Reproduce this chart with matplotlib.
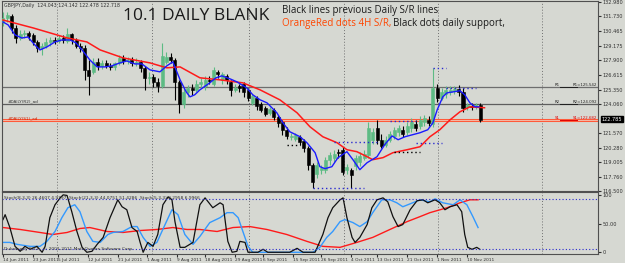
import matplotlib.pyplot as plt
import numpy as np

# GBPJPY daily candles, 14 Jun - 16 Nov 2011
opens = [131.24, 131.58, 131.76, 130.71, 129.84, 130.19, 130.28, 130.11, 129.50, 128.97,
         129.15, 129.50, 129.67, 129.58, 129.84, 129.58, 130.19, 129.67, 129.15, 128.97,
         127.06, 126.89, 127.76, 127.41, 127.67, 127.41, 127.32, 127.67, 128.10, 127.84,
         127.93, 127.67, 127.76, 127.23, 126.36, 126.45, 126.02, 125.67, 127.76, 128.19,
         127.93, 126.02, 124.10, 125.15, 125.49, 125.32, 125.84, 125.67, 126.19, 125.84,
         126.89, 126.19, 126.54, 126.02, 125.32, 125.67, 125.84, 125.32, 124.19, 124.63,
         124.10, 123.75, 123.32, 123.58, 122.97, 122.54, 121.84, 121.23, 121.06, 121.23,
         120.88, 120.27, 118.80, 118.01, 118.36, 118.36, 119.23, 119.40, 119.93, 120.10,
         118.36, 118.36, 118.71, 119.06, 119.40, 119.67, 120.97, 122.01, 120.97, 120.54,
         120.97, 121.32, 121.67, 121.84, 121.67, 122.01, 122.36, 122.19, 122.54, 122.71,
         122.36, 125.49, 124.63, 124.97, 125.15, 125.23, 125.41, 125.15, 123.84, 123.93,
         123.93, 124.04]
highs = [132.11, 132.11, 131.93, 130.98, 130.54, 130.54, 130.45, 130.28, 129.67, 129.41,
         129.84, 129.93, 129.93, 130.11, 130.11, 130.71, 130.28, 129.84, 129.41, 129.24,
         127.93, 128.10, 128.10, 127.93, 127.93, 127.67, 127.76, 128.37, 128.37, 128.19,
         128.19, 128.10, 127.93, 127.41, 126.89, 126.71, 126.36, 129.41, 128.63, 128.54,
         128.10, 126.19, 125.49, 125.76, 125.84, 126.19, 126.36, 126.54, 126.54, 127.32,
         127.06, 126.89, 126.71, 126.19, 125.84, 125.84, 126.02, 125.49, 124.97, 124.80,
         124.28, 123.93, 123.84, 123.75, 123.15, 122.71, 122.10, 121.58, 121.58, 121.41,
         121.06, 120.45, 118.97, 119.06, 118.80, 119.49, 119.93, 120.10, 120.19, 120.36,
         118.88, 118.53, 119.67, 119.93, 120.10, 122.54, 122.01, 122.71, 121.49, 121.32,
         121.75, 122.10, 122.28, 122.19, 122.54, 122.88, 122.71, 123.06, 123.15, 123.06,
         127.23, 125.84, 125.49, 125.67, 125.67, 125.67, 125.76, 125.49, 124.19, 124.19,
         124.19, 124.14]
lows = [130.89, 131.24, 130.28, 129.41, 129.67, 129.84, 129.67, 129.24, 128.63, 128.37,
        128.97, 129.15, 129.32, 129.41, 129.41, 129.41, 129.32, 128.97, 128.63, 126.19,
        124.89, 126.71, 127.06, 127.15, 127.23, 127.06, 127.06, 127.50, 127.58, 127.58,
        127.41, 127.41, 126.89, 125.32, 125.84, 125.58, 125.15, 125.49, 127.58, 127.67,
        124.45, 123.32, 123.75, 124.71, 124.89, 125.15, 125.49, 125.32, 125.84, 125.67,
        126.36, 125.84, 125.84, 124.80, 125.15, 125.15, 124.71, 124.36, 124.02, 123.58,
        123.41, 123.06, 123.15, 122.71, 122.10, 121.41, 121.06, 120.97, 120.88, 120.54,
        119.93, 118.36, 116.79, 117.66, 118.01, 118.10, 118.80, 119.06, 119.40, 117.93,
        118.01, 116.79, 118.36, 118.71, 119.23, 119.40, 120.62, 120.62, 120.27, 120.36,
        120.80, 121.06, 121.32, 121.23, 121.41, 121.67, 121.75, 121.93, 122.19, 122.19,
        122.10, 124.28, 124.45, 124.63, 124.89, 124.97, 124.80, 123.41, 123.58, 123.58,
        123.67, 122.48]
closes = [131.58, 131.85, 130.71, 129.84, 130.19, 130.28, 130.02, 129.50, 128.97, 129.15,
          129.50, 129.67, 129.58, 129.84, 129.67, 130.19, 129.67, 129.15, 128.97, 127.06,
          126.54, 127.76, 127.41, 127.67, 127.41, 127.32, 127.67, 128.10, 127.84, 127.93,
          127.67, 127.76, 127.23, 126.36, 126.45, 126.02, 125.67, 128.28, 128.19, 127.93,
          126.02, 124.10, 125.15, 125.49, 125.32, 125.84, 126.02, 126.19, 126.10, 127.06,
          126.71, 126.71, 126.19, 125.32, 125.49, 125.49, 125.15, 124.63, 124.80, 123.93,
          123.58, 123.23, 123.67, 122.97, 122.45, 121.84, 121.32, 121.32, 121.41, 120.80,
          120.27, 118.80, 117.32, 118.80, 118.53, 119.23, 119.67, 119.75, 119.84, 118.19,
          118.62, 117.93, 119.40, 119.58, 119.75, 122.01, 121.67, 120.97, 120.45, 120.97,
          121.49, 121.84, 122.01, 121.49, 122.19, 122.54, 122.01, 122.71, 122.88, 122.45,
          125.49, 124.63, 125.15, 125.32, 125.32, 125.41, 125.15, 123.75, 124.02, 123.84,
          124.02, 122.72]

# moving averages (bar index, price)
fast_ma_x = [0, 1.2, 2.8, 4.4, 5.8, 7.4, 8.6, 10.2, 12.1, 13.7, 15.6, 17.0, 18.4, 20.2, 21.9,
             23.7, 25.3, 27.2, 28.8, 30.7, 32.3, 34.2, 36.5, 38.1, 39.5, 41.2, 42.6, 43.5, 44.6,
             45.8, 48.1, 49.5, 50.9, 52.8, 54.4, 56.7, 58.1, 59.8, 61.4, 63.7, 65.1, 66.7, 69.1,
             70.7, 72.6, 73.7, 74.9, 76.5, 77.9, 80.0, 81.4, 83.0, 84.7, 87.0, 88.8, 90.5, 91.9,
             93.5, 95.3, 97.0, 98.8, 100.0, 101.0, 102.3, 103.3, 106.3, 107.4, 108.6, 109.8, 110.7]
fast_ma = [131.24, 130.98, 130.11, 129.84, 129.93, 129.24, 128.80, 129.06, 129.50, 129.67,
           129.67, 129.41, 128.80, 127.93, 127.32, 127.32, 127.41, 127.67, 127.84, 127.58,
           127.58, 127.06, 126.89, 127.41, 127.76, 126.19, 125.15, 124.71, 124.89, 125.32,
           125.93, 126.36, 126.54, 126.28, 126.02, 125.49, 124.89, 124.45, 124.19, 123.32,
           122.45, 121.67, 121.23, 120.71, 119.84, 118.62, 118.45, 118.62, 119.40, 119.93,
           119.23, 118.36, 118.97, 119.49, 120.55, 121.30, 120.97, 121.23, 121.41, 121.58,
           121.84, 122.45, 123.58, 124.71, 125.06, 125.24, 124.89, 124.19, 123.84, 123.84]
slow_ma_x = [0, 7.0, 14.9, 19.5, 22.6, 27.9, 34.2, 38.1, 41.2, 45.8, 50.5, 55.8, 59.8, 64.4,
             68.4, 71.4, 74.4, 77.7, 80.0, 82.3, 84.7, 86.0, 88.4, 90.7, 94.0, 97.0, 99.3,
             101.6, 104.0, 106.3, 108.6, 112.0]
slow_ma = [131.41, 130.72, 129.85, 129.50, 128.80, 128.11, 127.67, 127.24, 127.32, 126.37,
           126.19, 125.93, 125.32, 124.45, 123.32, 122.10, 121.23, 120.71, 120.10, 119.93,
           119.49, 119.23, 119.41, 119.84, 120.10, 120.36, 121.23, 121.84, 122.71, 123.41,
           123.84, 123.76]

# previous daily S/R levels
r1, r2, s1 = 125.542, 124.092, 122.682
bid = 122.785

# 4H S/R dotted segments: (start bar, end bar, price)
h4_levels = [(72, 84, 116.79), (77, 87, 120.80), (90, 96, 122.62), (96, 102, 120.71),
             (100, 103, 127.23), (103, 110, 125.49)]
daily_dots = [(66, 69, 120.54), (91, 97, 119.93)]

# oscillator panel (bar index, value)
osc_black_x = [0, 0.5, 1.6, 2.8, 4.0, 5.1, 6.3, 7.9, 9.1, 9.8, 10.9, 12.1, 13.3, 14.0, 14.9,
               16.0, 17.2, 18.4, 19.5, 20.7, 21.9, 23.3, 24.9, 26.7, 27.7, 28.8, 30.0, 31.2,
               31.9, 32.6, 33.7, 34.9, 36.0, 37.2, 38.4, 39.3, 40.0, 41.2, 42.3, 44.2, 45.8,
               47.0, 48.8, 50.5, 51.2, 52.3, 53.3, 54.4, 55.1, 56.3, 57.0, 59.3, 60.5, 61.6,
               66.7, 68.4, 69.8, 72.6, 74.4, 75.6, 76.7, 78.4, 79.1, 80.0, 81.2, 81.9, 83.0,
               84.7, 85.8, 87.0, 88.4, 89.5, 90.7, 91.9, 93.0, 94.7, 96.3, 97.7, 98.8, 100.5,
               101.6, 102.8, 104.0, 105.6, 106.7, 107.4, 108.1, 109.1, 110.2, 110.9]
osc_black = [56.9, 65.5, 43.1, 10.3, 1.7, 10.3, 5.2, 10.3, 0, 10.3, 60.3, 82.8, 94.8, 100, 99,
             70.7, 36.2, 8.6, 0, 1.7, 13.8, 25.9, 60.3, 91.4, 79.3, 74.1, 43.1, 36.2, 17.2, 0,
             17.2, 10.3, 31.0, 82.8, 96.5, 91.4, 53.4, 8.6, 8.6, 17.2, 82.8, 94.8, 77.6, 86.2,
             82.8, 19.0, 0, 1.7, 19.0, 17.2, 0, 0, 5.2, 0, 0, 6.9, 0, 0, 31.0, 60.3, 77.6, 91.4,
             94.8, 60.3, 25.9, 17.2, 25.9, 48.3, 77.6, 91.4, 94.8, 87.9, 62.1, 44.8, 48.3, 74.1,
             89.7, 91.4, 86.2, 91.4, 86.2, 74.1, 79.3, 82.8, 70.7, 31.0, 8.6, 5.2, 8.6, 5.2]
osc_blue_x = [0, 1.6, 3.3, 6.3, 8.6, 10.2, 12.1, 13.7, 15.1, 16.7, 17.9, 19.5, 20.9, 22.6,
              24.4, 25.6, 27.9, 30.0, 31.2, 32.6, 34.2, 35.8, 37.7, 39.3, 40.7, 42.3, 44.2,
              45.8, 48.1, 50.5, 52.1, 53.5, 54.7, 55.8, 57.0, 58.1, 72.1, 73.7, 75.3, 76.7,
              78.4, 79.5, 81.4, 83.0, 84.7, 86.0, 88.1, 90.0, 91.6, 93.0, 95.3, 97.0, 99.3,
              100.5, 102.3, 104.7, 106.3, 107.9, 109.3, 110.5]
osc_blue = [17.2, 17.2, 13.8, 10.3, 10.3, 19.0, 36.2, 60.3, 77.6, 82.8, 70.7, 36.2, 19.0, 17.2,
            31.0, 34.5, 36.2, 44.8, 44.8, 25.9, 10.3, 17.2, 48.3, 74.1, 65.5, 31.0, 13.8, 27.6,
            51.7, 60.3, 69.0, 69.0, 60.3, 36.2, 10.3, 0, 0, 8.6, 25.9, 36.2, 53.4, 56.9, 51.7,
            44.8, 53.4, 69.0, 91.4, 91.4, 86.2, 79.3, 86.2, 91.4, 87.9, 93.1, 86.2, 82.8, 91.4,
            82.8, 62.1, 43.1]
osc_red_x = [0, 4.0, 8.6, 11.6, 14.9, 17.9, 20.2, 24.2, 27.9, 31.9, 35.8, 39.5, 42.8, 45.8,
             49.8, 53.5, 57.4, 61.4, 66.0, 70.7, 74.4, 78.4, 82.3, 86.0, 90.0, 94.0, 97.0,
             99.3, 103.3, 106.3, 108.6, 110.5]
osc_red = [43.1, 39.7, 34.5, 31.0, 34.5, 41.4, 43.1, 36.2, 34.5, 37.9, 39.7, 43.1, 39.7, 39.7,
           36.2, 43.1, 44.8, 39.7, 31.0, 19.0, 10.3, 8.6, 17.2, 25.9, 39.7, 53.4, 62.1, 69.0,
           77.6, 86.2, 91.4, 91.4]

date_pos = [0, 7, 12.8, 19.8, 26.7, 33.5, 40.5, 47, 54, 60.5, 67.4, 74, 81, 87, 94, 101, 108]
date_labels = ['14 Jun 2011', '23 Jun 2011', '5 Jul 2011', '12 Jul 2011', '21 Jul 2011',
               '1 Aug 2011', '9 Aug 2011', '18 Aug 2011', '29 Aug 2011', '6 Sep 2011',
               '15 Sep 2011', '26 Sep 2011', '4 Oct 2011', '13 Oct 2011', '21 Oct 2011',
               '1 Nov 2011', '10 Nov 2011']
price_ticks = [132.980, 131.730, 130.465, 129.175, 127.900, 126.615, 125.350, 124.060,
               121.570, 120.280, 119.005, 117.760, 116.500]
grid_x = [12.6, 34.7, 57.2, 79.3, 101.2, 125.3]

bg = '#d6d8d2'
bull = '#5dbb84'
W, H = 625, 263

fig = plt.figure(figsize=(6.25, 2.63), dpi=100, facecolor=bg)
ax = fig.add_axes([2 / W, 1 - 191 / H, 596 / W, 190 / H], facecolor=bg)
ind = fig.add_axes([2 / W, 1 - 254 / H, 596 / W, 62 / H], facecolor=bg)

idx = np.arange(len(closes))
o, h, l, c = map(np.array, (opens, highs, lows, closes))
up = c >= o
cols = np.where(up, bull, 'black')

ax.vlines(idx, l, h, colors=cols, lw=0.8, zorder=3)
body_h = np.maximum(np.abs(c - o), 0.04)
ax.bar(idx, body_h, bottom=np.minimum(o, c), width=0.7, color=cols, edgecolor=cols,
       lw=0.4, zorder=4)

ax.plot(slow_ma_x, slow_ma, color='#ff1a1a', lw=1.1, zorder=5)
ax.plot(fast_ma_x, fast_ma, color='#1a1aff', lw=1.0, zorder=6)

# S/R lines
ax.axhline(r1, color='#6e6e6e', lw=0.9, zorder=2)
ax.axhline(r2, color='#5e5e5e', lw=0.9, zorder=2)
ax.axhline(s1, color='#ff5a3a', lw=2.2, zorder=2)
ax.axhline(s1, color='#f2c8b8', lw=0.6, zorder=2)

for a, b, p in h4_levels:
    ax.plot([a, b], [p, p], color='#2a2ad0', lw=1.0, ls=(0, (1, 2)), zorder=5)
for a, b, p in daily_dots:
    ax.plot([a, b], [p, p], color='black', lw=1.0, ls=(0, (1, 2)), zorder=5)

for lvl, name, col in ((r1, 'R1', '#202020'), (r2, 'R2', '#202020'), (s1, 'S1', '#e00000')):
    ax.plot([129.5, 133.5], [lvl, lvl], color=col, lw=0.7, zorder=3)
    ax.text(128.3, lvl + 0.12, name, fontsize=2.8, color=col)
    ax.text(138.2, lvl + 0.12, '%s=%.3f' % (name, lvl), fontsize=2.8, color=col, ha='right')
ax.text(1, r2 + 0.1, '#DAILY(R2)_ad', fontsize=3, color='#303030')
ax.text(1, s1 + 0.1, '#DAILY(S1)_ad', fontsize=3, color='#d02000')

for gx in grid_x:
    ax.axvline(gx, color='#707070', lw=0.7, ls=(0, (1, 2)), zorder=1)
    ind.axvline(gx, color='#707070', lw=0.7, ls=(0, (1, 2)), zorder=1)

ax.set_xlim(-0.23, 138.4)
ax.set_ylim(116.537, 133.067)
ax.yaxis.tick_right()
ax.set_yticks(price_ticks)
ax.set_yticklabels(['%.3f' % t for t in price_ticks])
ax.tick_params(axis='y', labelsize=3.6, length=2, pad=1, colors='#303030')
ax.set_xticks([])
for s in ax.spines.values():
    s.set_color('#505050')
    s.set_linewidth(0.8)
ax.text(1.006, (bid - 116.537) / (133.067 - 116.537), '%.3f' % bid, transform=ax.transAxes,
        fontsize=3.6, color='white', va='center', ha='left',
        bbox=dict(boxstyle='square,pad=0.12', fc='black', ec='black'), clip_on=False)

# oscillator
ind.plot(osc_red_x, osc_red, color='#ff1a1a', lw=1.0)
ind.plot(osc_blue_x, osc_blue, color='#3399ff', lw=1.0)
ind.plot(osc_black_x, osc_black, color='#101010', lw=0.9)
ind.axhline(92, color='#2a2ad0', lw=0.8, ls=(0, (1, 2)))
ind.axhline(6, color='#2a2ad0', lw=0.8, ls=(0, (1, 2)))
ind.set_xlim(-0.23, 138.4)
ind.set_ylim(-3, 105)
ind.yaxis.tick_right()
ind.set_yticks([100, 50, 0])
ind.set_yticklabels(['100', '50.00', '0'])
ind.tick_params(axis='y', labelsize=3.6, length=2, pad=1, colors='#303030')
ind.set_xticks(date_pos)
ind.set_xticklabels(date_labels, ha='left')
ind.tick_params(axis='x', labelsize=3.1, length=2, pad=1, colors='#303030')
for s in ind.spines.values():
    s.set_color('#505050')
    s.set_linewidth(0.8)

ind.text(0.004, 0.9, 'Stoch(8,3,3) 26.4607 4.9797  Stoch(21,3,3) 44.0751 51.4286  '
         'Stoch(5,3,3) 0.2958 6.9966', transform=ind.transAxes, fontsize=3.2, color='#303030',
         va='center')
ind.text(0.004, 0.08, 'Dukascopy 9/11,  \u00a9 2001-2011 MetaQuotes Software Corp.',
         transform=ind.transAxes, fontsize=3.2, color='#303030', va='center')

# header texts
fig.text(4 / W, 1 - 5 / H, 'GBPJPY,Daily  124.043 124.142 122.478 122.718', fontsize=3.4,
         color='#303030', va='center')
fig.text(123 / W, 1 - 20 / H, '10.1 DAILY BLANK', fontsize=12.5, color='#1a1a1a',
         family='Open Sans', va='baseline')
fig.text(282 / W, 1 - 13 / H, 'Black lines previous Daily S/R lines', fontsize=7,
         color='#1a1a1a', family='Open Sans', va='baseline')
fig.text(282 / W, 1 - 26 / H, 'OrangeRed dots 4H S/R,', fontsize=7, color='#ff4500',
         family='Open Sans', va='baseline')
fig.text(393 / W, 1 - 26 / H, 'Black dots daily support,', fontsize=7, color='#1a1a1a',
         family='Open Sans', va='baseline')

fig.savefig('out.png', dpi=100, facecolor=bg)
